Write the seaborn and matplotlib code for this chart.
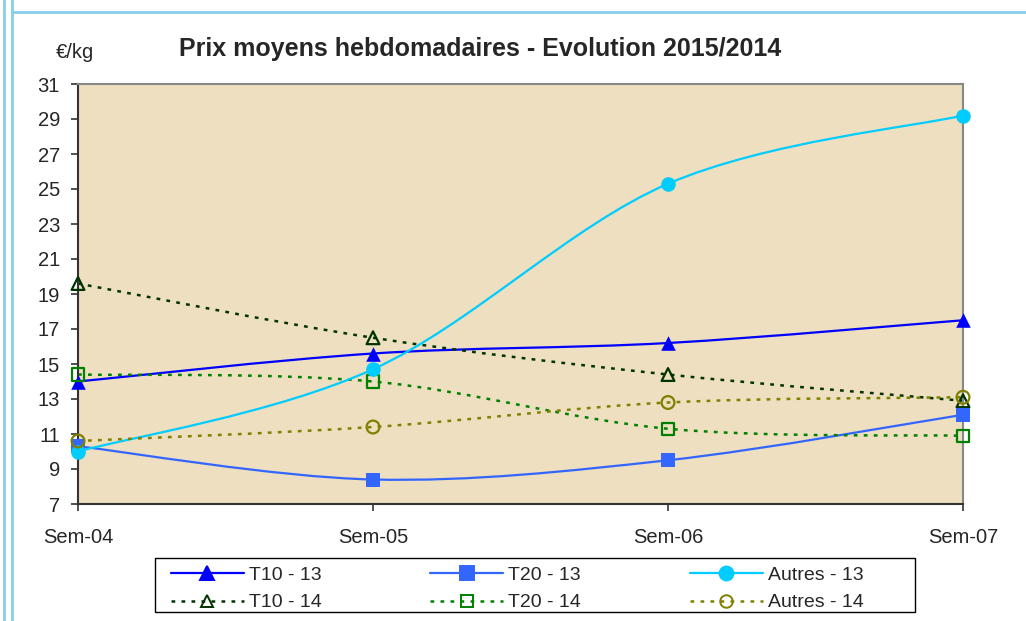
import numpy as np
import pandas as pd
import seaborn as sns
import matplotlib.pyplot as plt
from matplotlib.path import Path
from matplotlib.patches import PathPatch, Rectangle
from matplotlib.lines import Line2D

weeks = ['Sem-04', 'Sem-05', 'Sem-06', 'Sem-07']
t10_13 = [14.0, 15.6, 16.2, 17.5]
t20_13 = [10.3, 8.4, 9.5, 12.1]
autres_13 = [10.0, 14.7, 25.3, 29.2]
t10_14 = [19.6, 16.5, 14.4, 12.9]
t20_14 = [14.4, 14.0, 11.3, 10.9]
autres_14 = [10.6, 11.4, 12.8, 13.1]

sns.set_style('white')
plt.rcParams['font.family'] = ['Liberation Sans', 'DejaVu Sans']

# label, values, color, linestyle, marker, filled
SERIES = [
    ('T10 - 13', t10_13, '#0000FF', '-', '^', True),
    ('T10 - 14', t10_14, '#003300', (0, (1.5, 2.5)), '^', False),
    ('T20 - 13', t20_13, '#3366FF', '-', 's', True),
    ('T20 - 14', t20_14, '#008000', (0, (1.5, 2.5)), 's', False),
    ('Autres - 13', autres_13, '#00CCFF', '-', 'o', True),
    ('Autres - 14', autres_14, '#808000', (0, (1.5, 2.5)), 'o', False),
]


def smooth_path(xs, ys):
    # excel-like smoothed line: catmull-rom turned into cubic bezier segments
    pts = np.column_stack([xs, ys]).astype(float)
    ext = np.vstack([pts[0], pts, pts[-1]])
    verts = [pts[0]]
    codes = [Path.MOVETO]
    for i in range(len(pts) - 1):
        p0, p1, p2, p3 = ext[i], ext[i + 1], ext[i + 2], ext[i + 3]
        verts += [p1 + (p2 - p0) / 6, p2 - (p3 - p1) / 6, p2]
        codes += [Path.CURVE4] * 3
    return Path(verts, codes)


fig = plt.figure(figsize=(10.26, 6.21), dpi=100)
ax = fig.add_axes([78 / 1026, 1 - 504 / 621, 885 / 1026, 420 / 621])
ax.set_facecolor('#EDDFBF')

xpos = np.arange(len(weeks))
handles = []
for label, vals, col, ls, mk, filled in SERIES:
    lw = 1.6 if ls == '-' else 1.8
    ax.add_patch(PathPatch(smooth_path(xpos, vals), facecolor='none', edgecolor=col,
                           lw=lw, linestyle=ls, zorder=2, clip_on=False))
    df = pd.DataFrame({'x': xpos, 'y': vals})
    if filled:
        size = 110 if mk != 's' else 95
    else:
        size = 85 if mk != 's' else 75
    sns.scatterplot(data=df, x='x', y='y', ax=ax, marker=mk, s=size,
                    color=col if filled else 'none', edgecolor=col,
                    linewidth=0 if filled else 1.6, zorder=3, clip_on=False, legend=False)
    handles.append(Line2D([], [], color=col, lw=lw, linestyle=ls, marker=mk,
                          markersize=10 if filled else 9,
                          markerfacecolor=col if filled else 'none', markeredgecolor=col,
                          markeredgewidth=1.4, label=label))

ax.set_xlim(0, 3)
ax.set_ylim(7, 31)
ax.set_yticks(range(7, 32, 2))
ax.set_xticks(xpos)
ax.set_xticklabels(weeks)
ax.set_xlabel('')
ax.set_ylabel('')
ax.tick_params(axis='both', labelsize=14.5, length=5, width=1.2, color='#333333', direction='out')
ax.tick_params(axis='x', pad=12, bottom=True)
ax.tick_params(axis='y', pad=8, left=True)
for side in ['left', 'bottom']:
    ax.spines[side].set_color('#333333')
    ax.spines[side].set_linewidth(1.5)
for side in ['top', 'right']:
    ax.spines[side].set_color('#888888')
    ax.spines[side].set_linewidth(1.5)

fig.text(480 / 1026, 1 - 49 / 621, 'Prix moyens hebdomadaires - Evolution 2015/2014',
         ha='center', va='center', fontsize=18, fontweight='bold')
fig.text(75 / 1026, 1 - 52 / 621, '€/kg', ha='center', va='center', fontsize=14.5)

# legend box drawn separately so its width matches the original frame
fig.add_artist(Rectangle((155 / 1026, 1 - 612 / 621), 760 / 1026, 54 / 621,
                         transform=fig.transFigure, facecolor='white',
                         edgecolor='black', lw=1.0))
leg = fig.legend(handles=handles, ncol=3, loc='center left',
                 bbox_to_anchor=(167 / 1026, 1 - 589 / 621),
                 fontsize=14, frameon=False, handlelength=3.75,
                 borderpad=0.2, labelspacing=0.5, handletextpad=0.25,
                 columnspacing=5.6, borderaxespad=0)

# light blue page borders
fig.add_artist(Line2D([3.5 / 1026, 3.5 / 1026], [0, 1], color='#87CEEB', lw=2))
fig.add_artist(Line2D([11.5 / 1026, 11.5 / 1026], [0, 1], color='#87CEEB', lw=2))
fig.add_artist(Line2D([11.5 / 1026, 1], [1 - 11.5 / 621, 1 - 11.5 / 621], color='#87CEEB', lw=2))

fig.savefig('out.png', dpi=100)
